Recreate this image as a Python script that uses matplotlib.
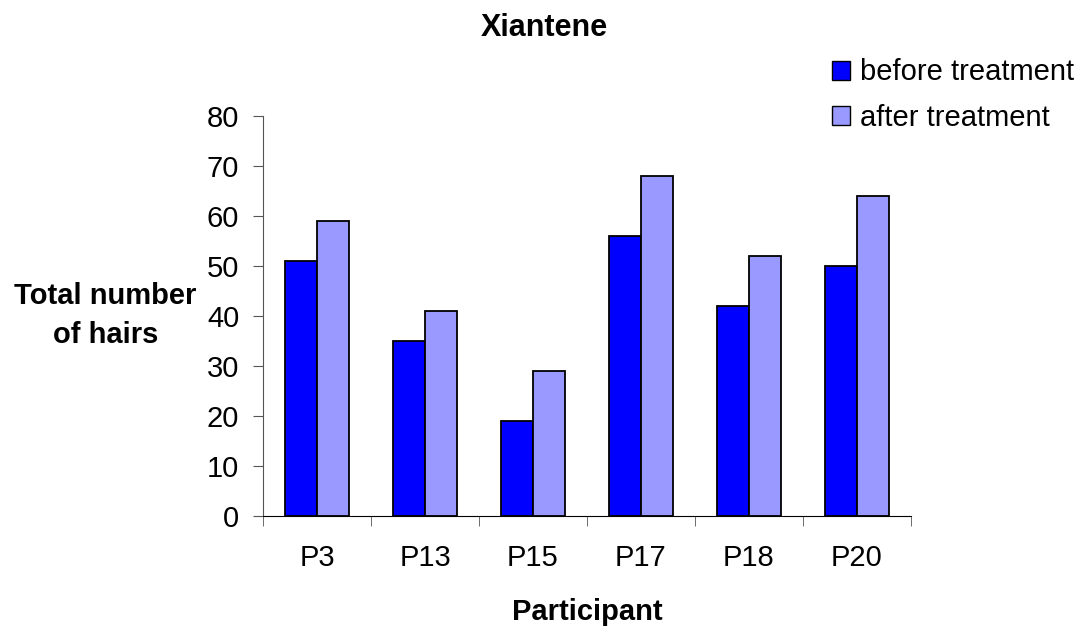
import numpy as np
import matplotlib.pyplot as plt
from matplotlib.patches import Patch

plt.rcParams['font.family'] = ['Liberation Sans', 'DejaVu Sans']

participants = ['P3', 'P13', 'P15', 'P17', 'P18', 'P20']
before = [51, 35, 19, 56, 42, 50]
after = [59, 41, 29, 68, 52, 64]

fig = plt.figure(figsize=(10.87, 6.28), dpi=100)
ax = fig.add_axes([0.242, 0.178, 0.596, 0.638])

x = np.arange(len(participants))
w = 0.296
ax.bar(x - w / 2, before, w, color='#0000ff', edgecolor='black', linewidth=1.3)
ax.bar(x + w / 2, after, w, color='#9999ff', edgecolor='black', linewidth=1.3)

ax.set_xlim(-0.5, len(participants) - 0.5)
ax.set_ylim(0, 80)
ax.set_yticks(range(0, 81, 10))
ax.set_xticks(x)
ax.set_xticklabels(participants)
# category separators as ticks on the x axis
ax.set_xticks(np.arange(-0.5, len(participants)), minor=True)
ax.tick_params(axis='x', which='major', length=0, pad=20, labelsize=21)
ax.tick_params(axis='x', which='minor', length=7.5, color='#555555')
ax.tick_params(axis='y', length=7.2, color='#555555', labelsize=21, pad=10)

for s in ['top', 'right']:
    ax.spines[s].set_visible(False)
ax.spines['left'].set_color('#555555')
ax.spines['bottom'].set_color('black')

fig.text(0.501, 0.9427, 'Xiantene', ha='center', va='baseline', fontsize=22, fontweight='bold')
fig.text(0.540, 0.0127, 'Participant', ha='center', va='baseline', fontsize=21, fontweight='bold')
fig.text(0.097, 0.498, 'Total number\nof hairs', ha='center', va='center', ma='center',
         fontsize=21, fontweight='bold', linespacing=1.5)

handles = [Patch(facecolor='#0000ff', edgecolor='black', label='before treatment'),
           Patch(facecolor='#9999ff', edgecolor='black', label='after treatment')]
fig.legend(handles=handles, loc='upper left', bbox_to_anchor=(0.765, 0.907), frameon=False,
           fontsize=21, handlelength=0.62, handleheight=0.62, handletextpad=0.34,
           labelspacing=0.59, borderpad=0, borderaxespad=0)

plt.savefig('out.png', dpi=100)
